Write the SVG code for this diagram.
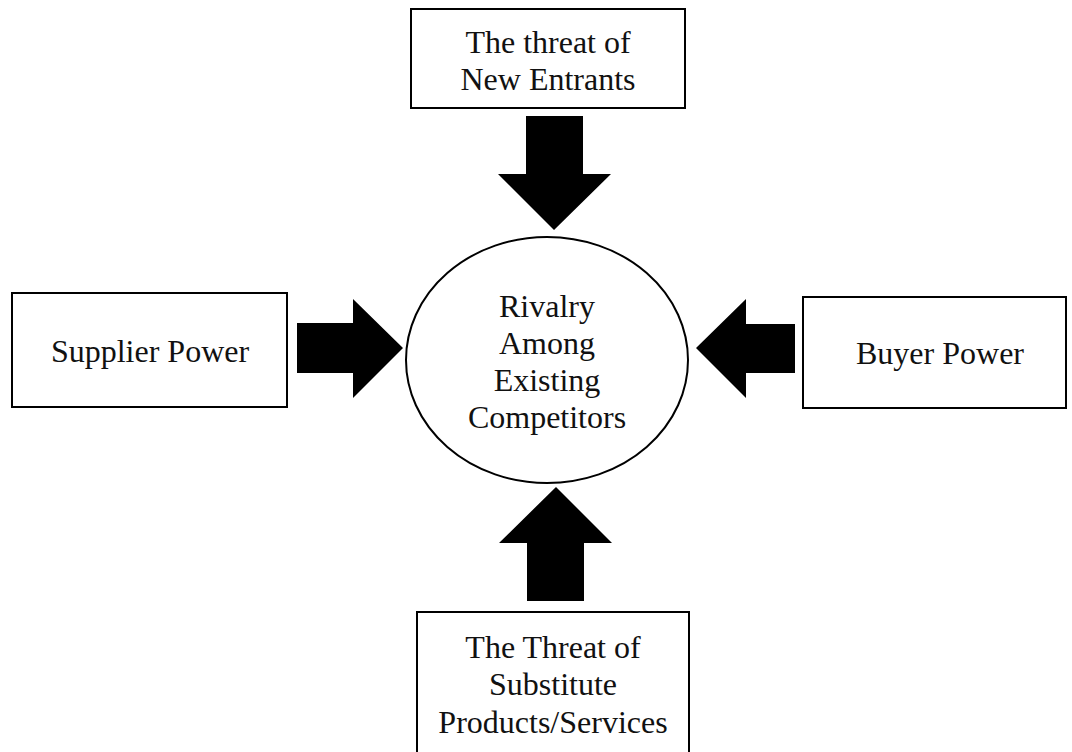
<svg xmlns="http://www.w3.org/2000/svg" width="1072" height="752" viewBox="0 0 1072 752">
<style>
.box{fill:#fff;stroke:#000;stroke-width:2}
.ell{fill:#fff;stroke:#000;stroke-width:2}
.arrow{fill:#000;stroke:none}
text{font-family:"Liberation Serif","Times New Roman",serif;font-size:32px;fill:#111;text-anchor:middle}
</style>
<rect width="1072" height="752" fill="#fff"/>
<g id="connectors">
<polygon class="arrow" points="526,116 583,116 583,174 611,174 554,230 498,174 526,174"/>
<polygon class="arrow" points="297,323 353,323 353,299 403,348 353,398 353,373 297,373"/>
<polygon class="arrow" points="795,324 746,324 746,299 696,348 746,398 746,373 795,373"/>
<polygon class="arrow" points="527,601 584,601 584,543 612,543 556,487 499,543 527,543"/>
</g>
<g id="node-center">
<ellipse class="ell" cx="547" cy="360" rx="141" ry="123"/>
<text x="547" y="317">Rivalry</text>
<text x="547" y="354">Among</text>
<text x="547" y="391">Existing</text>
<text x="547" y="428">Competitors</text>
</g>
<g id="node-new-entrants">
<rect class="box" x="411" y="9" width="274" height="99"/>
<text x="548" y="53">The threat of</text>
<text x="548" y="90">New Entrants</text>
</g>
<g id="node-supplier">
<rect class="box" x="12" y="293" width="275" height="114"/>
<text x="150" y="362">Supplier Power</text>
</g>
<g id="node-buyer">
<rect class="box" x="803" y="297" width="263" height="111"/>
<text x="940" y="364">Buyer Power</text>
</g>
<g id="node-substitutes">
<rect class="box" x="417" y="612" width="272" height="150"/>
<text x="553" y="658">The Threat of</text>
<text x="553" y="695">Substitute</text>
<text x="553" y="733">Products/Services</text>
</g>
</svg>
